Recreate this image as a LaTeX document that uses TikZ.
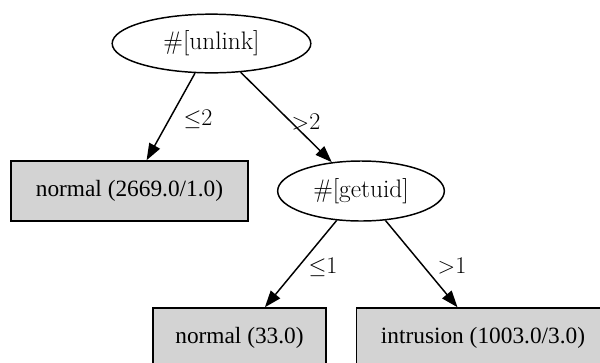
\documentclass[tikz,border=0pt]{standalone}
\usepackage{fontspec}
\usetikzlibrary{shapes.geometric,arrows.meta}
\newfontfamily\leaffont{Liberation Serif}

\tikzset{every picture/.style={line width=1.1pt}}
\tikzset{
  testnode/.style={ellipse, draw, inner sep=0pt, font=\fontsize{19}{23}\selectfont},
  leafnode/.style={rectangle, draw, fill={rgb, 255:red, 211; green, 211; blue, 211}, inner sep=0pt, minimum height=45pt, font=\leaffont\fontsize{17.5}{21}\selectfont},
  branch/.style={-{Triangle[length=12.5pt, width=9pt]}},
  cutlabel/.style={inner sep=0pt, font=\fontsize{18}{21}\selectfont}
}

\begin{document}
\begin{tikzpicture}[x=0.75pt,y=0.75pt,yscale=-1,xscale=1]
	\path[use as bounding box] (0,0) rectangle (600,362);
	\clip (0,0) rectangle (600,362);

	% Test Nodes
	\node[testnode, minimum width=149pt, minimum height=44pt] (unlink) at (211.5,43.5) {\#[unlink]};
	\node[testnode, minimum width=125pt, minimum height=45pt] (getuid) at (361,191) {\#[getuid]};

	% Leaf Nodes
	\node[leafnode, minimum width=178pt] (normalA) at (129.5,191) {normal (2669.0/1.0)};
	\node[leafnode, minimum width=130pt] (normalB) at (239.5,338) {normal (33.0)};
	\node[leafnode, minimum width=190pt] (intrusion) at (483,338) {intrusion (1003.0/3.0)};

	% Branches
	\draw[branch] (unlink) -- (normalA);
	\draw[branch] (unlink) -- (getuid);
	\draw[branch] (getuid) -- (normalB);
	\draw[branch] (getuid) -- (intrusion);

	% Text Node
	\node[cutlabel] (cutA) at (198,119) {$\leq$2};
	% Text Node
	\node[cutlabel] (cutB) at (306,122) {$>$2};
	% Text Node
	\node[cutlabel] (cutC) at (323,267) {$\leq$1};
	% Text Node
	\node[cutlabel] (cutD) at (452,266) {$>$1};

\end{tikzpicture}
\end{document}
